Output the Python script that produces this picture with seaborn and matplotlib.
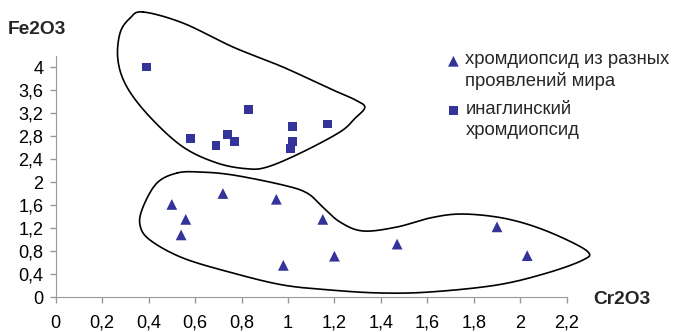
import numpy as np
import pandas as pd
import seaborn as sns
import matplotlib.pyplot as plt

sns.set_style('ticks')
plt.rcParams['font.family'] = ['Liberation Sans', 'DejaVu Sans']

# хромдиопсид из разных проявлений мира (triangles)
world_cr = [0.50, 0.56, 0.54, 0.72, 0.95, 0.98, 1.15, 1.20, 1.47, 1.90, 2.03]
world_fe = [1.61, 1.35, 1.08, 1.80, 1.70, 0.55, 1.35, 0.71, 0.92, 1.22, 0.72]

# инаглинский хромдиопсид (squares)
inagli_cr = [0.39, 0.58, 0.69, 0.74, 0.77, 0.83, 1.02, 1.02, 1.01, 1.17]
inagli_fe = [4.00, 2.76, 2.64, 2.83, 2.71, 3.26, 2.97, 2.71, 2.58, 3.01]

labels = ['хромдиопсид из разных\nпроявлений мира', 'инаглинский\nхромдиопсид']

# hand-drawn outlines around the two groups (data coords)
outline_top = [(0.376, 4.957), (0.548, 4.765), (0.763, 4.348), (0.978, 4.0),
               (1.194, 3.6), (1.289, 3.43), (1.331, 3.30), (1.289, 3.11),
               (1.224, 2.87), (1.052, 2.50), (0.910, 2.26), (0.824, 2.23),
               (0.695, 2.33), (0.548, 2.61), (0.406, 3.13), (0.307, 3.65),
               (0.268, 4.12), (0.277, 4.59), (0.320, 4.85)]
outline_bottom = [(0.523, 2.157), (0.621, 2.174), (0.763, 2.122), (0.978, 1.948),
                  (1.082, 1.809), (1.150, 1.565), (1.224, 1.304), (1.323, 1.148),
                  (1.469, 1.217), (1.611, 1.374), (1.740, 1.443), (1.900, 1.391),
                  (2.042, 1.252), (2.184, 1.026), (2.292, 0.783), (2.270, 0.643),
                  (2.115, 0.417), (1.900, 0.209), (1.611, 0.087), (1.396, 0.070),
                  (1.181, 0.122), (0.978, 0.209), (0.763, 0.417), (0.548, 0.678),
                  (0.406, 0.991), (0.363, 1.252), (0.376, 1.565), (0.436, 1.983)]


def smooth_closed(pts, n=24):
    P = np.array(pts)
    N = len(P)
    t = np.linspace(0, 1, n, endpoint=False)[:, None]
    segs = []
    for i in range(N):
        p0, p1, p2, p3 = P[i - 1], P[i], P[(i + 1) % N], P[(i + 2) % N]
        segs.append(0.5 * (2 * p1 + (-p0 + p2) * t
                           + (2 * p0 - 5 * p1 + 4 * p2 - p3) * t ** 2
                           + (-p0 + 3 * p1 - 3 * p2 + p3) * t ** 3))
    out = np.vstack(segs)
    return np.vstack([out, out[:1]])


world = pd.DataFrame({'Cr2O3': world_cr, 'Fe2O3': world_fe})
inagli = pd.DataFrame({'Cr2O3': inagli_cr, 'Fe2O3': inagli_fe})

fig = plt.figure(figsize=(6.74, 3.32), dpi=100)
ax = fig.add_axes([0.0826, 0.1054, 0.7582, 0.7274])

navy = '#333399'
sns.scatterplot(data=world, x='Cr2O3', y='Fe2O3', marker='^', s=60,
                color=navy, edgecolor='none', label=labels[0], ax=ax)
sns.scatterplot(data=inagli, x='Cr2O3', y='Fe2O3', marker='s', s=40,
                color=navy, edgecolor='none', label=labels[1], ax=ax)

for pts in (outline_top, outline_bottom):
    c = smooth_closed(pts)
    ax.plot(c[:, 0], c[:, 1], color='black', lw=1.2, clip_on=False)

xt = np.round(np.arange(0, 2.21, 0.2), 1)
yt = np.round(np.arange(0, 4.01, 0.4), 1)
ax.set_xticks(xt)
ax.set_xticklabels([f'{v:g}'.replace('.', ',') for v in xt])
ax.set_yticks(yt)
ax.set_yticklabels([f'{v:g}'.replace('.', ',') for v in yt])
ax.set_xlim(0, 2.2)
ax.set_ylim(0, 4.2)
ax.set_xlabel('')
ax.set_ylabel('')
ax.tick_params(axis='both', colors='#999999', labelcolor='black', labelsize=13.1,
               length=4.3, width=1)
ax.tick_params(axis='x', pad=8.4)
ax.tick_params(axis='y', pad=4.5)
for side in ('top', 'right'):
    ax.spines[side].set_visible(False)
for side in ('left', 'bottom'):
    ax.spines[side].set_color('#999999')

fig.text(8 / 674, 1 - 29 / 332, 'Fe2O3', fontsize=13.8, fontweight='bold',
         va='center', ha='left')
fig.text(593 / 674, 1 - 299 / 332, 'Cr2O3', fontsize=13.8, fontweight='bold',
         va='center', ha='left')

leg = ax.legend(loc='upper left', bbox_to_anchor=(446 / 674, 1 - 51 / 332),
                bbox_transform=fig.transFigure, frameon=False, fontsize=13.3,
                handletextpad=0.25, handlelength=0.8, labelspacing=0.55,
                borderpad=0, borderaxespad=0)
for t in leg.get_texts():
    t.set_linespacing(1.32)
# marker sits beside the first line of each two-line entry
for h in leg.legend_handles:
    off = h.get_offsets().copy()
    off[:, 1] += 8
    h.set_offsets(off)

fig.savefig('out.png', dpi=100)
